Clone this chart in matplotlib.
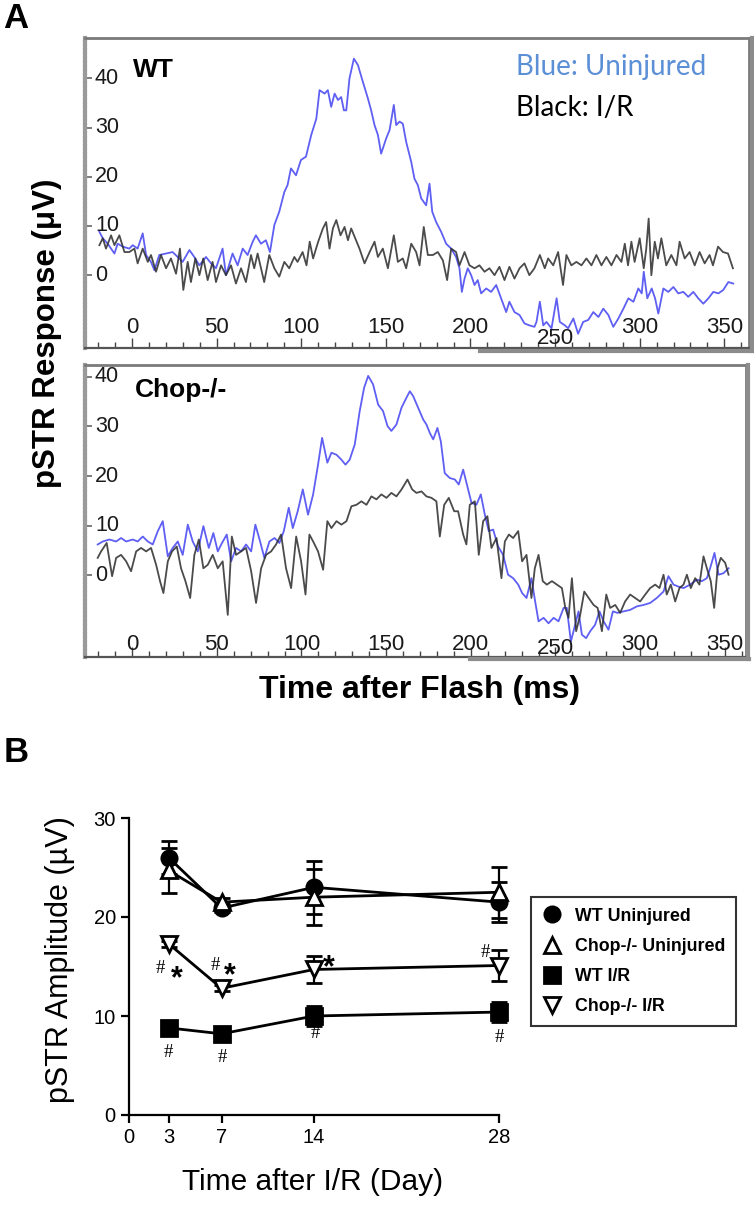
import numpy as np
import matplotlib
matplotlib.use("Agg")
import matplotlib.pyplot as plt
from matplotlib.lines import Line2D

plt.rcParams['font.family'] = ['Liberation Sans', 'DejaVu Sans']

W, H = 754, 1209

# ---- panel A: pSTR waveforms (time after flash in ms, response in uV) ----
wt_uninj = [(-19.3, 8.8), (-17.3, 7.5), (-14.4, 6.4), (-10.4, 4.4), (-8.5, 6.4), (-5.5, 5.8), (-1.6, 5.4),
            (0.4, 6.1), (3.3, 5.4), (6.3, 8.5), (8.3, 4.1), (11.2, 2.7), (13.2, 1.0), (16.1, 4.1), (20.1, 4.4),
            (24.0, 4.7), (27.0, 3.7), (29.9, 2.7), (33.9, 5.1), (36.8, 3.7), (39.8, 2.0), (43.7, 3.7), (46.7, 2.4),
            (49.6, 1.4), (53.5, 5.4), (55.5, 0.0), (59.4, 4.4), (62.4, 2.0), (65.4, 5.4), (68.3, 4.1), (71.3, 6.8),
            (73.2, 8.1), (76.2, 6.4), (79.1, 7.1), (81.5, 4.7), (84.1, 10.2), (87.0, 12.9), (90.0, 16.9),
            (91.9, 18.3), (93.9, 21.7), (96.9, 20.3), (99.8, 23.4), (102.8, 24.1), (105.9, 28.5), (108.9, 31.8),
            (110.8, 37.6), (113.8, 36.9), (115.7, 37.6), (117.7, 34.2), (119.7, 36.9), (121.7, 35.6),
            (123.6, 36.2), (125.2, 33.5), (126.6, 33.5), (128.5, 40.0), (131.1, 44.0), (133.5, 42.7),
            (136.4, 39.3), (139.4, 35.9), (141.3, 33.5), (143.3, 30.5), (145.3, 28.5), (147.2, 24.7),
            (150.2, 27.8), (152.2, 29.5), (154.7, 34.6), (156.1, 30.5), (158.1, 31.2), (160.0, 30.8),
            (162.0, 27.1), (165.0, 23.0), (166.9, 19.6), (168.9, 18.3), (170.9, 15.6), (173.8, 14.2),
            (175.8, 18.6), (177.4, 12.9), (179.7, 10.8), (182.7, 8.8), (185.6, 6.4), (188.6, 5.4), (191.5, 3.7),
            (193.5, 1.4), (194.9, -3.4), (196.5, -0.7), (198.4, 1.4), (200.4, 0.0), (202.4, -2.0), (204.3, -1.0),
            (206.3, -3.7), (209.3, -2.7), (212.2, -3.4), (215.2, -2.0), (218.1, -4.7), (221.1, -7.5),
            (223.0, -5.4), (226.0, -7.5), (229.0, -8.1), (231.9, -9.8), (234.8, -10.2), (237.8, -10.5),
            (239.0, -9.5), (241.0, -5.4), (243.0, -10.2), (244.9, -9.5), (247.9, -10.8), (250.9, -4.7),
            (252.8, -9.5), (255.8, -10.2), (257.7, -10.8), (260.8, -8.8), (263.6, -11.9), (266.6, -9.5),
            (269.6, -9.1), (272.6, -7.5), (275.6, -8.5), (278.5, -6.8), (281.5, -8.1), (284.4, -10.5),
            (287.4, -8.8), (290.4, -6.8), (293.3, -4.7), (296.3, -5.4), (299.2, -2.7), (301.2, -3.7),
            (302.4, 0.7), (304.5, -4.7), (307.1, -2.7), (309.1, -4.7), (311.0, -7.8), (314.0, -2.7),
            (316.9, -3.4), (319.9, -2.4), (322.8, -3.7), (325.8, -3.4), (328.7, -4.4), (331.7, -3.4),
            (334.6, -4.7), (337.6, -5.8), (340.6, -4.7), (343.5, -3.4), (346.5, -3.7), (349.4, -3.0),
            (352.4, -1.4), (355.3, -1.7)]

wt_ir = [(-19.3, 6.1), (-17.3, 7.5), (-15.4, 5.4), (-12.4, 8.1), (-10.4, 6.1), (-7.5, 8.1), (-4.5, 4.7),
         (-1.6, 4.7), (1.4, 5.4), (3.3, 2.4), (6.3, 5.4), (9.3, 2.7), (11.2, 4.1), (14.2, 0.7), (17.1, 4.1),
         (20.1, 1.4), (23.0, 3.4), (26.0, 0.3), (28.3, 5.4), (30.3, -3.0), (32.9, 2.7), (34.8, -1.4), (37.4, 3.4),
         (39.8, 0.0), (42.1, 3.4), (44.7, -1.0), (47.6, 2.7), (49.6, -1.4), (52.6, 2.0), (55.5, 0.0), (58.5, 2.0),
         (61.4, -1.7), (64.4, 1.4), (67.3, -1.4), (70.3, 4.1), (72.2, 1.4), (74.2, 4.4), (78.1, -1.4),
         (81.1, 4.1), (84.1, 1.4), (87.0, -0.3), (90.0, 2.7), (92.9, 1.4), (95.9, 3.7), (97.8, 2.7),
         (100.8, 4.7), (103.1, 2.0), (105.0, 6.8), (107.0, 3.4), (110.0, 6.8), (112.8, 9.5), (114.7, 10.8),
         (116.7, 5.4), (118.7, 9.5), (120.7, 11.2), (123.2, 8.1), (125.6, 9.8), (127.6, 7.1), (129.5, 9.5),
         (131.9, 7.5), (134.4, 5.4), (137.4, 2.4), (140.4, 4.7), (143.3, 6.8), (145.3, 3.7), (148.2, 5.4),
         (151.2, 1.4), (154.7, 8.1), (157.1, 2.7), (160.0, 3.4), (162.0, 1.4), (165.0, 6.4), (167.9, 4.7),
         (169.9, 2.0), (172.4, 9.8), (174.8, 4.1), (177.8, 4.1), (180.7, 4.7), (183.7, 3.0), (186.2, -1.0),
         (188.6, 5.4), (191.5, 4.7), (193.5, 2.0), (196.5, 4.7), (199.4, 2.0), (202.4, 1.4), (205.3, 2.0),
         (208.3, 0.7), (211.2, 1.4), (214.2, 0.0), (217.1, 1.7), (220.1, -1.0), (223.0, 1.7), (226.0, -0.7),
         (229.0, 1.4), (231.9, 2.4), (234.8, 0.0), (237.8, 1.4), (241.0, 4.1), (243.9, 1.4), (245.9, 3.4),
         (248.9, 2.0), (251.8, 4.7), (254.7, -2.0), (256.7, 4.1), (259.6, 2.0), (262.6, 2.7), (265.6, 2.0),
         (268.5, 3.4), (271.5, 2.0), (274.4, 4.1), (277.4, 2.0), (280.3, 3.7), (283.3, 2.0), (286.3, 4.1),
         (289.2, 2.7), (291.2, 6.4), (293.1, 2.0), (295.1, 6.8), (297.0, 2.7), (300.0, 7.5), (302.4, 1.4),
         (303.9, 5.4), (305.3, 11.5), (306.9, 0.0), (308.9, 6.8), (310.8, 3.4), (312.8, 7.5), (315.7, 2.0),
         (318.7, 4.1), (321.7, 2.0), (323.6, 6.8), (326.6, 3.4), (329.5, 4.7), (332.5, 2.0), (335.4, 4.7),
         (338.4, 2.4), (341.3, 4.1), (343.3, 2.0), (346.3, 5.8), (349.2, 4.7), (352.2, 4.4), (355.1, 1.4)]

chop_uninj = [(-20.3, 6.2), (-17.3, 6.8), (-13.4, 7.2), (-9.4, 6.8), (-6.5, 7.5), (-3.5, 6.8), (0.4, 7.2),
              (3.3, 6.8), (6.3, 7.8), (9.3, 6.8), (12.2, 6.2), (15.2, 8.9), (18.1, 10.9), (21.1, 3.8), (24.0, 5.5),
              (27.0, 6.8), (29.9, 4.1), (32.9, 10.2), (35.8, 6.8), (38.8, 4.8), (42.1, 9.9), (45.3, 5.5),
              (48.0, 8.5), (50.6, 4.8), (53.1, 6.5), (55.9, 8.2), (58.5, 2.8), (61.4, 5.5), (64.4, 4.8),
              (67.3, 6.2), (70.3, 4.8), (72.8, 10.2), (75.6, 6.8), (78.1, 3.5), (81.1, 6.8), (84.1, 7.5),
              (87.0, 6.5), (89.6, 8.9), (92.5, 13.6), (94.9, 9.5), (97.8, 12.9), (100.8, 17.3), (103.9, 12.2),
              (106.9, 16.3), (109.8, 22.3), (112.2, 27.7), (115.3, 22.7), (117.7, 24.7), (120.7, 24.3),
              (123.6, 23.3), (126.0, 22.3), (128.5, 23.3), (131.5, 26.4), (134.4, 33.1), (137.0, 37.8),
              (139.4, 40.2), (142.3, 38.5), (145.3, 34.4), (148.2, 33.1), (150.8, 30.1), (153.1, 29.1),
              (156.1, 30.4), (159.1, 33.8), (162.0, 35.8), (164.0, 37.1), (166.0, 36.1), (168.9, 33.8),
              (171.9, 31.4), (173.8, 30.4), (175.8, 28.7), (177.8, 27.4), (180.3, 29.7), (182.3, 27.0),
              (184.6, 20.6), (187.6, 19.6), (190.6, 19.3), (192.9, 18.3), (195.5, 21.3), (198.0, 17.9),
              (200.4, 14.6), (203.3, 14.2), (205.9, 16.3), (208.3, 12.2), (210.6, 8.9), (213.2, 9.2),
              (216.1, 5.8), (219.1, 4.1), (222.0, 0.1), (225.0, -0.6), (228.0, -1.9), (230.3, -3.6),
              (232.9, -4.6), (235.8, -0.6), (238.0, -5.3), (240.0, -9.3), (243.0, -8.6), (245.9, -9.7),
              (248.9, -8.6), (251.8, -9.3), (254.8, -6.6), (256.7, -6.6), (259.1, -13.4), (261.6, -10.0),
              (263.6, -7.3), (265.6, -12.0), (268.1, -12.7), (270.5, -11.3), (273.4, -10.0), (276.0, -7.3),
              (278.4, -9.3), (281.3, -11.0), (283.9, -7.3), (286.6, -7.6), (290.2, -7.3), (294.1, -7.0),
              (298.0, -6.3), (302.0, -6.0), (305.9, -5.6), (309.8, -4.6), (313.8, -3.3), (316.7, -0.2),
              (319.7, -1.9), (322.6, -2.3), (325.6, -2.6), (329.5, -1.9), (333.5, -0.9), (336.4, -1.2),
              (339.4, -0.6), (341.3, 1.4), (343.9, 4.5), (346.3, 0.1), (349.2, 0.4), (352.2, 1.4)]

chop_ir = [(-20.3, 3.5), (-18.3, 4.8), (-15.0, 6.5), (-11.8, -0.2), (-9.4, 3.5), (-6.5, 4.1), (-3.5, 2.8),
           (-0.6, 0.8), (2.4, 4.8), (5.3, 5.5), (8.3, 4.8), (11.2, 5.5), (14.2, 2.1), (16.5, -1.2), (18.5, -3.6),
           (21.1, 2.8), (23.6, 4.8), (26.4, 5.8), (28.9, 1.4), (31.5, -1.2), (34.3, -4.6), (36.8, 4.1),
           (39.4, 7.2), (42.1, 1.4), (44.7, 2.1), (47.6, 4.1), (50.6, 1.4), (53.5, 2.8), (56.5, -8.0),
           (58.9, 7.8), (61.4, 4.1), (64.4, 4.8), (67.3, 5.5), (70.3, 0.8), (73.2, -5.6), (76.2, 1.4),
           (79.1, 4.1), (82.1, 4.8), (85.0, 6.2), (88.0, 8.2), (90.9, 1.4), (93.9, -2.6), (96.9, 7.8),
           (99.8, 2.8), (102.4, -3.9), (104.7, 8.2), (106.9, 6.8), (109.8, 4.8), (112.8, 1.1), (115.3, 10.9),
           (117.7, 9.5), (120.7, 10.9), (123.6, 10.2), (126.6, 10.9), (129.5, 13.9), (132.5, 14.2),
           (135.4, 14.9), (138.4, 14.2), (141.3, 15.9), (144.3, 15.3), (147.2, 16.3), (150.2, 15.6),
           (153.1, 16.6), (156.1, 15.9), (159.1, 17.3), (162.6, 19.3), (165.4, 17.3), (167.9, 16.6),
           (170.9, 16.9), (173.8, 15.9), (176.8, 15.6), (179.7, 14.9), (181.7, 7.8), (184.3, 14.2),
           (187.0, 15.6), (190.2, 12.9), (192.5, 12.9), (195.5, 8.2), (197.4, 6.2), (199.4, 14.2),
           (202.4, 14.9), (204.7, 4.1), (207.3, 10.9), (209.8, 11.9), (212.2, 5.5), (215.2, 7.5),
           (218.1, -0.6), (220.1, 6.8), (222.5, 8.2), (225.0, 7.5), (228.0, 8.9), (230.3, 2.8), (232.9, 4.1),
           (235.8, -4.6), (237.8, 1.4), (240.0, 4.1), (242.5, -1.2), (244.9, -1.9), (247.9, -1.2),
           (250.8, -1.9), (253.8, -2.6), (255.8, -6.6), (257.7, -8.6), (259.7, -0.6), (262.2, -11.3),
           (264.6, -8.0), (267.0, -3.3), (269.6, -4.6), (272.5, -6.0), (274.9, -6.6), (277.4, -11.3),
           (280.0, -3.9), (282.3, -6.6), (285.3, -6.0), (288.2, -7.6), (291.1, -5.3), (294.1, -3.9),
           (297.0, -4.6), (300.0, -5.3), (303.0, -3.9), (305.9, -2.6), (308.9, -1.9), (311.4, -2.6),
           (313.8, 0.1), (315.7, -3.9), (318.1, -1.9), (320.7, -5.3), (323.2, -2.6), (325.6, -1.9),
           (327.6, 0.1), (329.9, -2.6), (332.5, -0.6), (335.0, -1.9), (337.4, 3.8), (339.4, 1.4),
           (341.7, -1.2), (343.7, -6.6), (345.7, 1.4), (347.6, 3.5), (350.2, 2.5), (352.2, 0.1)]

ms_ticks = [0, 50, 100, 150, 200, 250, 300, 350]
uv_ticks = [0, 10, 20, 30, 40]

# ---- panel B: pSTR amplitude vs day after I/R ----
days = [3, 7, 14, 28]
wt_uninj_amp = [26.0, 20.9, 23.0, 21.5]
wt_uninj_sem = [1.7, 0.4, 2.7, 2.0]
chop_uninj_amp = [24.7, 21.5, 22.0, 22.5]
chop_uninj_sem = [2.3, 0.4, 2.8, 2.6]
wt_ir_amp = [8.8, 8.2, 10.0, 10.4]
wt_ir_sem = [0.3, 0.3, 1.0, 1.0]
chop_ir_amp = [17.3, 12.8, 14.7, 15.1]
chop_ir_sem = [0.3, 0.3, 1.4, 1.6]
day_ticks = [0, 3, 7, 14, 28]
amp_ticks = [0, 10, 20, 30]
# significance marks: (day, uV, symbol)
sig_marks = [(2.35, 14.8, '#'), (6.5, 15.1, '#'), (26.95, 16.4, '#'),
             (2.95, 6.3, '#'), (7.1, 5.8, '#'), (14.1, 8.2, '#'), (28.0, 7.8, '#'),
             (3.65, 14.8, '*'), (7.65, 15.1, '*'), (15.1, 15.9, '*')]

BLUE = '#4d4df2'
DARK = '#2b2b2b'

fig = plt.figure(figsize=(W / 100, H / 100), dpi=100)


def px_rect(l, t, r, b):
    return [l / W, 1 - b / H, (r - l) / W, (b - t) / H]


def trace_axes(rect, ylim, xlim, lab_y, lab_y250):
    ax = fig.add_axes(rect)
    ax.set_xlim(xlim)
    ax.set_ylim(ylim)
    ax.set_xticks(ms_ticks)
    ax.set_xticks(np.arange(-20, 361, 10), minor=True)
    ax.tick_params(axis='x', which='both', direction='in', labelbottom=False, color='#444', width=1)
    ax.tick_params(axis='x', which='major', length=7)
    ax.tick_params(axis='x', which='minor', length=4)
    ax.set_yticks(uv_ticks)
    ax.tick_params(axis='y', direction='in', length=5, width=1.2, labelleft=False, color='#666')
    for s in ['top', 'right']:
        ax.spines[s].set_color('#7a7a7a')
        ax.spines[s].set_linewidth(2)
    ax.spines['bottom'].set_color('#555555')
    ax.spines['bottom'].set_linewidth(1.6)
    ax.spines['left'].set_color('#9a9a9a')
    ax.spines['left'].set_linewidth(3)
    ax.spines['left'].set_linestyle((0, (0.5, 0.5)))
    for v in uv_ticks:
        ax.text(0.015, v, str(v), transform=ax.get_yaxis_transform(), ha='left', va='center',
                fontsize=15.5, color='#1a1a1a')
    for t in ms_ticks:
        ax.text(t, lab_y250 if t == 250 else lab_y, str(t), transform=ax.get_xaxis_transform(),
                ha='center', va='center', fontsize=16, color='#1a1a1a')
    return ax


ax1 = trace_axes(px_rect(85, 38, 749, 348), (-14.8, 48.2), (-27.8, 364.6), 0.066, 0.032)
t, v = np.array(wt_uninj).T
ax1.plot(t, v, color=BLUE, lw=1.3, alpha=0.9)
t, v = np.array(wt_ir).T
ax1.plot(t, v, color=DARK, lw=1.3, alpha=0.85)

ax2 = trace_axes(px_rect(85, 365, 746, 657), (-16.5, 42.4), (-27.8, 362.5), 0.042, 0.028)
t, v = np.array(chop_uninj).T
ax2.plot(t, v, color=BLUE, lw=1.3, alpha=0.9)
t, v = np.array(chop_ir).T
ax2.plot(t, v, color=DARK, lw=1.3, alpha=0.85)

# screenshot-like shadow edges of the trace panels
for xs, ys, in [((480, 752), (351, 351)), ((752, 752), (38, 351)),
                ((470, 749), (659, 659)), ((748, 748), (365, 659))]:
    fig.add_artist(Line2D([x / W for x in xs], [1 - y / H for y in ys], color='#8c8c8c', lw=3))

fig.text(133 / W, 1 - 70 / H, 'WT', fontsize=19, fontweight='bold', va='center', ha='left')
fig.text(135 / W, 1 - 390 / H, 'Chop-/-', fontsize=19, fontweight='bold', va='center', ha='left')
fig.text(516 / W, 1 - 67 / H, 'Blue: Uninjured', fontsize=20, color='#5b8fd6', va='center', ha='left',
         family=['Lato', 'DejaVu Sans'])
fig.text(516 / W, 1 - 108 / H, 'Black: I/R', fontsize=20, color='black', va='center', ha='left',
         family=['Lato', 'DejaVu Sans'])

fig.text(16 / W, 1 - 18 / H, 'A', fontsize=25, fontweight='bold', ha='center', va='center')
fig.text(16 / W, 1 - 752 / H, 'B', fontsize=25, fontweight='bold', ha='center', va='center')
fig.text(47 / W, 1 - 333 / H, 'pSTR Response (μV)', fontsize=22.5, fontweight='bold', rotation=90,
         ha='center', va='center')
fig.text(420 / W, 1 - 690 / H, 'Time after Flash (ms)', fontsize=23, fontweight='bold',
         ha='center', va='center')

# ---- panel B ----
axb = fig.add_axes(px_rect(129, 818, 499, 1115))
axb.set_xlim(0, 28)
axb.set_ylim(0, 30)
for s in ['top', 'right']:
    axb.spines[s].set_visible(False)
for s in ['left', 'bottom']:
    axb.spines[s].set_linewidth(1.6)
axb.set_xticks(day_ticks)
axb.set_yticks(amp_ticks)
axb.tick_params(direction='out', length=6, width=1.6, labelsize=14.5)

common = dict(color='black', lw=2, elinewidth=1.6, capsize=6, capthick=1.6, clip_on=False, ms=11)
series = [
    (wt_uninj_amp, wt_uninj_sem, 'o', 'black', 'WT Uninjured'),
    (chop_uninj_amp, chop_uninj_sem, '^', 'white', 'Chop-/- Uninjured'),
    (wt_ir_amp, wt_ir_sem, 's', 'black', 'WT I/R'),
    (chop_ir_amp, chop_ir_sem, 'v', 'white', 'Chop-/- I/R'),
]
handles = []
for amp, sem, mk, fc, lab in series:
    eb = axb.errorbar(days, amp, yerr=sem, marker=mk, mfc=fc, mec='black', mew=2, **common)
    for a in eb.lines[1] + eb.lines[2]:
        a.set_clip_on(False)
    handles.append(Line2D([], [], marker=mk, ls='none', mfc=fc, mec='black', mew=2, ms=11, color='black'))

for d, a, s in sig_marks:
    if s == '#':
        axb.text(d, a, s, fontsize=13.5, ha='center', va='center', family=['Liberation Serif', 'DejaVu Serif'])
    else:
        axb.text(d, a - 1.1, s, fontsize=22, fontweight='bold', ha='center', va='center')

fig.text(60 / W, 1 - 960 / H, 'pSTR Amplitude (µV)', fontsize=22, rotation=90, ha='center', va='center')
fig.text(313 / W, 1 - 1182 / H, 'Time after I/R (Day)', fontsize=21.5, ha='center', va='center')

leg = fig.legend(handles, [s[4] for s in series], loc='upper left', bbox_to_anchor=(531 / W, 1 - 897 / H),
                 frameon=True, fancybox=False, edgecolor='black', prop={'weight': 'bold', 'size': 12.8},
                 handlelength=1.2, handletextpad=0.7, labelspacing=0.74, borderpad=0.6, borderaxespad=0)
leg.get_frame().set_linewidth(1.5)

fig.savefig('out.png', dpi=100)
